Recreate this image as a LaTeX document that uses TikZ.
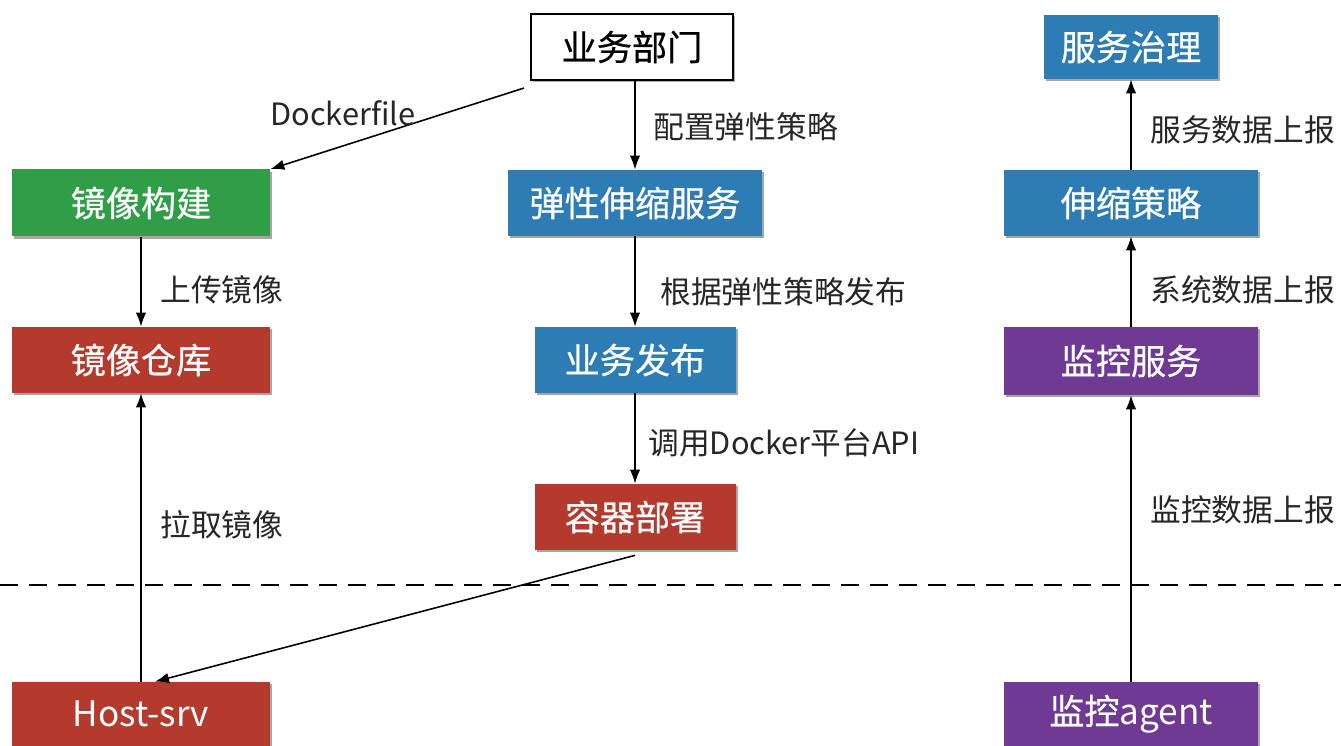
\documentclass[tikz,border=0pt]{standalone}
\usepackage{fontspec}
\setmainfont{Noto Sans CJK SC}
\newfontfamily\boxfont[FakeBold=0.6]{Noto Sans CJK SC}
\usetikzlibrary{arrows.meta,shadows,calc}
\newdimen\pxu \pxu=0.02cm
\definecolor{cgreen}{HTML}{309E46}
\definecolor{cblue}{HTML}{2D7DB4}
\definecolor{cred}{HTML}{B43A2D}
\definecolor{cpurple}{HTML}{6E3A94}
\tikzset{
  boxbase/.style={inner sep=0pt, text=white, font=\fontsize{20pt}{24pt}\boxfont\selectfont,
    drop shadow={shadow xshift=1.2pt, shadow yshift=-1.2pt, opacity=0.35, fill=black}},
  greenbox/.style={boxbase, fill=cgreen},
  bluebox/.style={boxbase, fill=cblue},
  redbox/.style={boxbase, fill=cred},
  purplebox/.style={boxbase, fill=cpurple},
  whitebox/.style={inner sep=0pt, draw=black, line width=1.2pt, fill=white, text=black,
    font=\fontsize{20pt}{24pt}\boxfont\selectfont,
    drop shadow={shadow xshift=1.2pt, shadow yshift=-1.2pt, opacity=0.3, fill=black}},
  lbl/.style={inner sep=0pt, anchor=west, font=\fontsize{17.5pt}{21pt}\selectfont, text=black!85},
  arr/.style={-{Latex[length=2.8mm,width=2.1mm]}, line width=0.9pt, black},
  sep/.style={dash pattern=on 0.36cm off 0.22cm, line width=0.9pt, black}
}
\begin{document}
\begin{tikzpicture}[x=0.02cm, y=-0.02cm]
\useasboundingbox (0,0) rectangle (1341,746);
% nodes
\node[whitebox, minimum width=202\pxu, minimum height=66\pxu] (dept) at (632,47) {业务部门};
\node[greenbox, minimum width=258\pxu, minimum height=67\pxu] (build) at (141,203) {镜像构建};
\node[redbox, minimum width=258\pxu, minimum height=66\pxu] (repo) at (141,360) {镜像仓库};
\node[redbox, minimum width=258\pxu, minimum height=64\pxu, font=\fontsize{20pt}{24pt}\rmfamily\selectfont] (host) at (141,714) {Host-srv};
\node[bluebox, minimum width=254\pxu, minimum height=66\pxu] (elastic) at (635,203) {弹性伸缩服务};
\node[bluebox, minimum width=201\pxu, minimum height=66\pxu] (publish) at (635,360) {业务发布};
\node[redbox, minimum width=201\pxu, minimum height=66\pxu] (deploy) at (635,517) {容器部署};
\node[bluebox, minimum width=174\pxu, minimum height=64\pxu] (gov) at (1131,47) {服务治理};
\node[bluebox, minimum width=254\pxu, minimum height=66\pxu] (policy) at (1131,203) {伸缩策略};
\node[purplebox, minimum width=254\pxu, minimum height=68\pxu] (mon) at (1131,361) {监控服务};
\node[purplebox, minimum width=254\pxu, minimum height=64\pxu] (agent) at (1131,714) {监控{\rmfamily agent}};
% dashed separator
\coordinate (dl) at (0,585);
\coordinate (dr) at (1341,585);
\draw[sep] (dl) -- (dr);
% connectors
\draw[arr] ($(dept.south west)+(-6,7)$) -- (build.north east);
\draw[arr] (dept.south -| elastic.north) -- (elastic.north);
\draw[arr] (build.south) -- (repo.north);
\draw[arr] (elastic.south) -- (publish.north);
\draw[arr] (publish.south) -- (deploy.north);
\draw[arr] ($(deploy.south)+(0,5)$) -- ($(host.north)+(14,0)$);
\draw[arr] (host.north) -- (repo.south);
\draw[arr] (policy.north) -- (gov.south);
\draw[arr] (mon.north) -- (policy.south);
\draw[arr] (agent.north) -- (mon.south);
% labels
\node[lbl] (l1) at (270,113) {Dockerfile};
\node[lbl] (l2) at (653,127) {配置弹性策略};
\node[lbl] (l3) at (160,290) {上传镜像};
\node[lbl] (l4) at (660,292) {根据弹性策略发布};
\node[lbl] (l5) at (648,443) {调用Docker平台API};
\node[lbl] (l6) at (160,525) {拉取镜像};
\node[lbl] (l7) at (1150,130) {服务数据上报};
\node[lbl] (l8) at (1150,290) {系统数据上报};
\node[lbl] (l9) at (1150,510) {监控数据上报};
\end{tikzpicture}
\end{document}
